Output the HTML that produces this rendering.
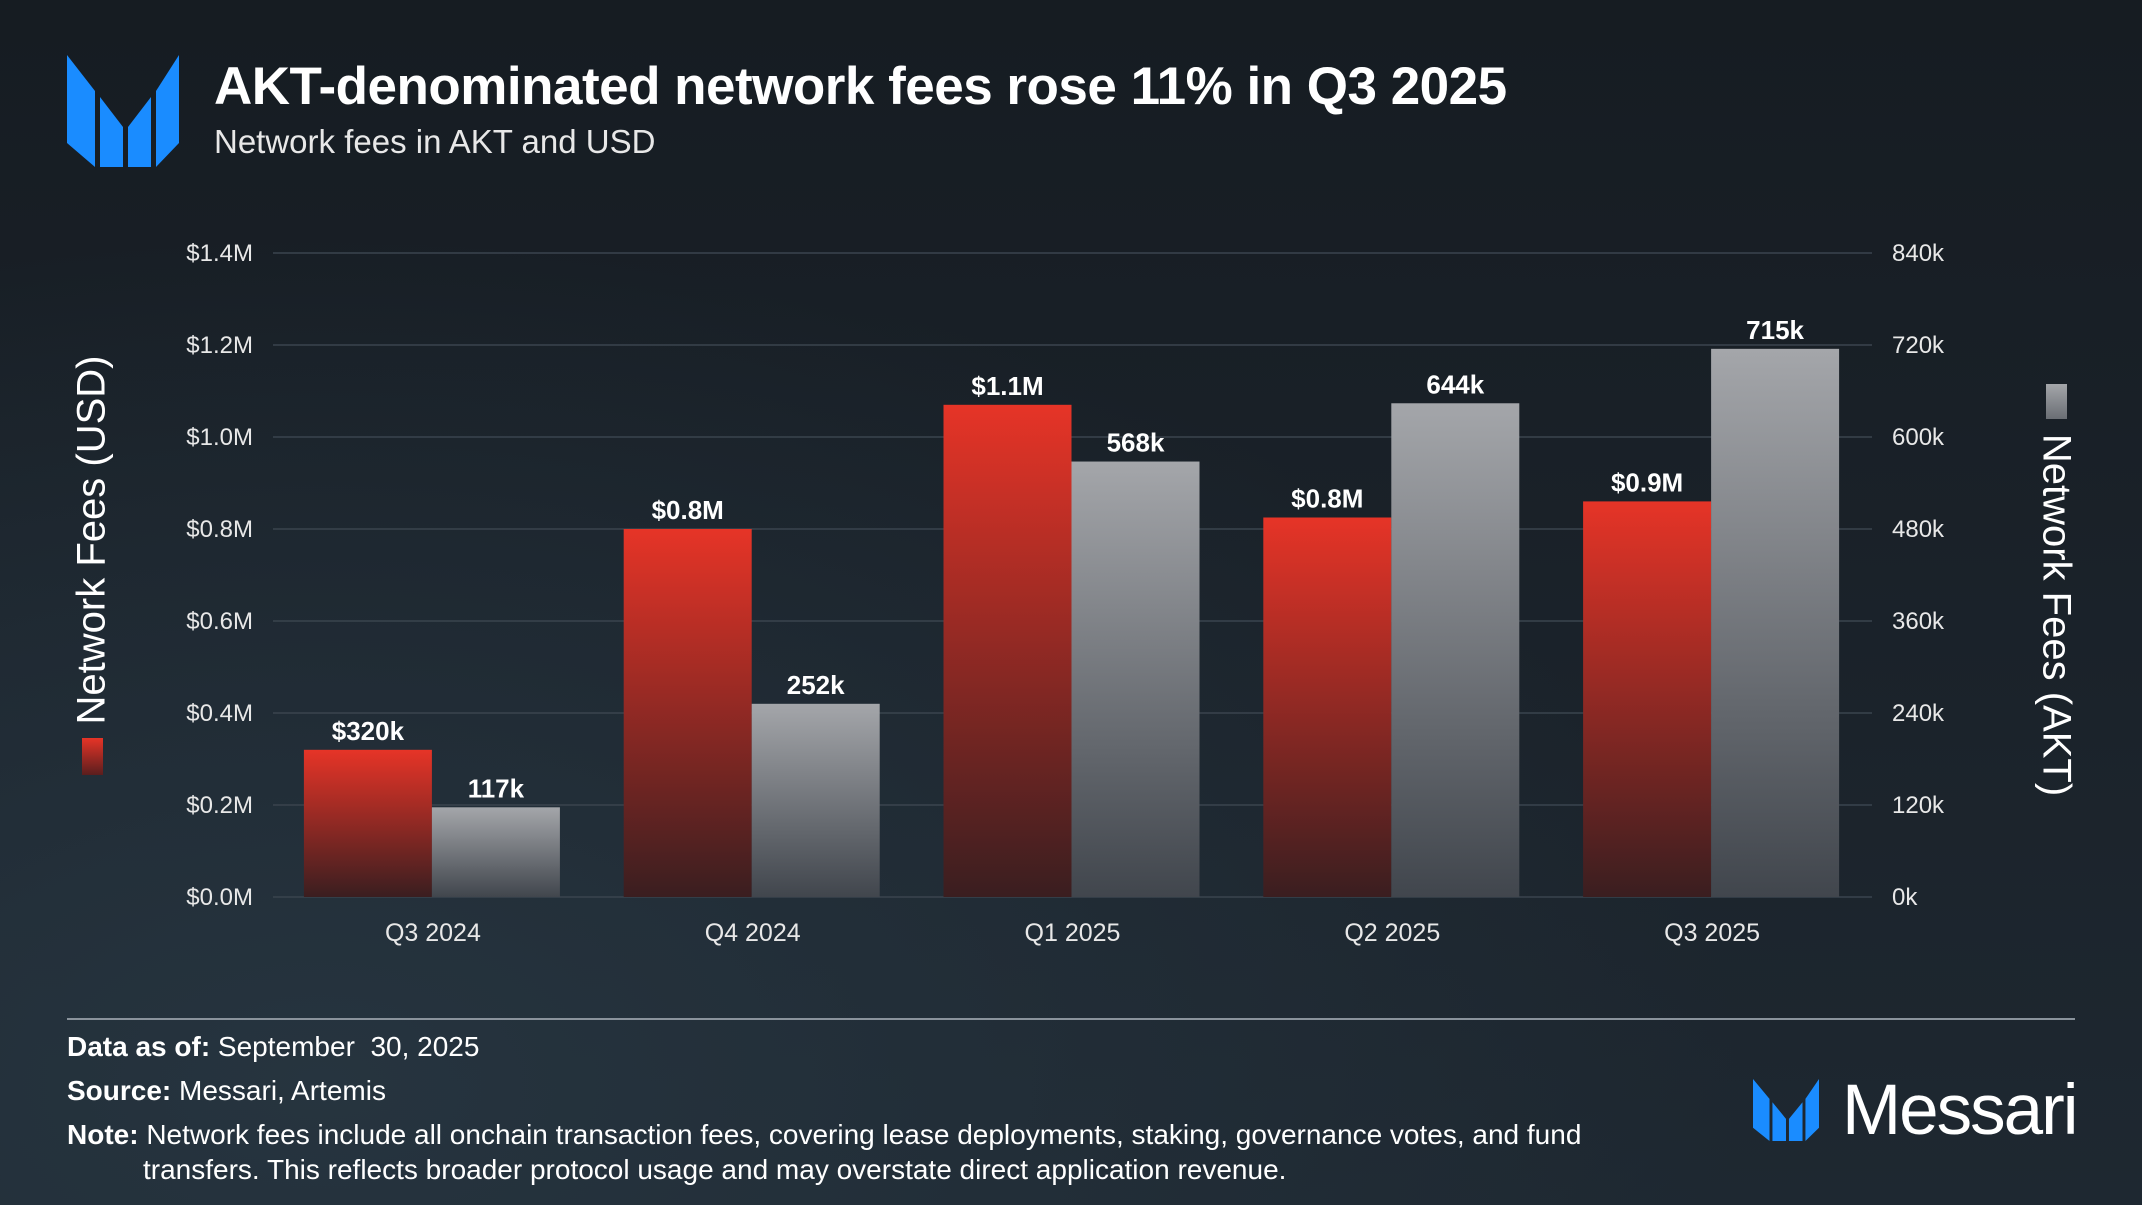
<!DOCTYPE html>
<html><head><meta charset="utf-8"><style>
html,body{margin:0;padding:0}
body{width:2142px;height:1205px;overflow:hidden;font-family:"Liberation Sans",sans-serif;color:#fff;
background:radial-gradient(ellipse at 15% 90%,#26343f 0%,rgba(30,40,50,0) 55%),linear-gradient(180deg,#161c22 0%,#1b232b 60%,#1e2831 100%);position:relative}
.abs{position:absolute}
</style></head><body>
<svg class="abs" style="left:67px;top:55px" width="112" height="112" viewBox="0 0 112 112">
<polygon points="0,0 28,36 28,112 0,88" fill="#1a8cff"/><polygon points="33,42 56,72 56,112 33,112" fill="#1a8cff"/>
<polygon points="61,72 84,42 84,112 61,112" fill="#1a8cff"/><polygon points="89,36 112,0 112,88 89,112" fill="#1a8cff"/></svg>
<div class="abs" style="left:214px;top:56px;font-size:53px;font-weight:bold;letter-spacing:-0.5px">AKT-denominated network fees rose 11% in Q3 2025</div>
<div class="abs" style="left:214px;top:123px;font-size:33px;color:#e8e8e8">Network fees in AKT and USD</div>
<svg class="abs" style="left:0;top:0" width="2142" height="1000" id="chart">
<defs>
<linearGradient id="gr" x1="0" y1="0" x2="0" y2="1"><stop offset="0" stop-color="#e63427"/><stop offset="1" stop-color="#3a1e20"/></linearGradient>
<linearGradient id="gg" x1="0" y1="0" x2="0" y2="1"><stop offset="0" stop-color="#a4a6aa"/><stop offset="1" stop-color="#41464d"/></linearGradient>
</defs>
<g id="grid"></g><g id="bars"></g><g id="labels"></g>
</svg>
<div class="abs" style="left:92px;top:540px;transform:translate(-50%,-50%) rotate(-90deg);font-size:40px;white-space:nowrap">Network Fees (USD)</div>
<div class="abs" style="left:82px;top:738px;width:21px;height:37px;background:linear-gradient(#e63427,#5a1e1e)"></div>
<div class="abs" style="left:2056px;top:615px;transform:translate(-50%,-50%) rotate(90deg);font-size:40px;white-space:nowrap">Network Fees (AKT)</div>
<div class="abs" style="left:2046px;top:384px;width:21px;height:35px;background:linear-gradient(#a4a6aa,#6a6e74)"></div>
<div class="abs" style="left:67px;top:1018px;width:2008px;height:2px;background:#8a939c"></div>
<div class="abs" style="left:67px;top:1031px;font-size:28px"><b>Data as of:</b> September&nbsp; 30, 2025</div>
<div class="abs" style="left:67px;top:1075px;font-size:28px"><b>Source:</b> Messari, Artemis</div>
<div class="abs" style="left:67px;top:1117px;font-size:28px;line-height:35px;width:1620px"><b>Note:</b> Network fees include all onchain transaction fees, covering lease deployments, staking, governance votes, and fund<br><span style="padding-left:76px">transfers. This reflects broader protocol usage and may overstate direct application revenue.</span></div>
<svg class="abs" style="left:1753px;top:1079px" width="66" height="62" viewBox="0 0 112 112" preserveAspectRatio="none">
<polygon points="0,0 28,36 28,112 0,88" fill="#1a8cff"/><polygon points="33,42 56,72 56,112 33,112" fill="#1a8cff"/>
<polygon points="61,72 84,42 84,112 61,112" fill="#1a8cff"/><polygon points="89,36 112,0 112,88 89,112" fill="#1a8cff"/></svg>
<div class="abs" style="left:1842px;top:1070px;font-size:71px;letter-spacing:-2px">Messari</div>
<script>
const categories=["Q3 2024","Q4 2024","Q1 2025","Q2 2025","Q3 2025"];
const usdValues=[0.32,0.80,1.07,0.825,0.86];
const usdLabels=["$320k","$0.8M","$1.1M","$0.8M","$0.9M"];
const aktValues=[117,252,568,644,715];
const aktLabels=["117k","252k","568k","644k","715k"];
const usdTicks=[0,0.2,0.4,0.6,0.8,1.0,1.2,1.4];
const aktTicks=[0,120,240,360,480,600,720,840];
const NS="http://www.w3.org/2000/svg";
const X0=273,X1=1872,Y0=897,Y1=253;
const yUsd=v=>Y0-(v/1.4)*(Y0-Y1);
const yAkt=v=>Y0-(v/840)*(Y0-Y1);
const step=(X1-X0)/categories.length;
const xC=i=>X0+step*(i+0.5);
const BW=128;
function mk(t,a,p){const e=document.createElementNS(NS,t);for(const k in a)e.setAttribute(k,a[k]);p.appendChild(e);return e;}
const grid=document.getElementById('grid'),bars=document.getElementById('bars'),lab=document.getElementById('labels');
usdTicks.forEach((v,i)=>{const y=yUsd(v);
const l=mk('line',{x1:X0,x2:X1,y1:y,y2:y,stroke:'#3a444e','stroke-width':1.5},grid);


const t=mk('text',{x:253,y:y+8,'text-anchor':'end','font-size':24,fill:'#e8e8e8'},lab);t.textContent='$'+v.toFixed(1)+'M';


const r=mk('text',{x:1892,y:yAkt(aktTicks[i])+8,'font-size':24,fill:'#e8e8e8'},lab);r.textContent=aktTicks[i]+'k';

});
categories.forEach((c,i)=>{const cx=xC(i);
const ry=yUsd(usdValues[i]);
const rb=mk('rect',{x:cx-BW-1,y:ry,width:BW,height:Y0-ry,fill:'url(#gr)'},bars);


const gy=yAkt(aktValues[i]);
const gb=mk('rect',{x:cx-1,y:gy,width:BW,height:Y0-gy,fill:'url(#gg)'},bars);


const t1=mk('text',{x:cx-BW/2-1,y:ry-10,'text-anchor':'middle','font-size':26,'font-weight':'bold',fill:'#fff'},lab);t1.textContent=usdLabels[i];


const t2=mk('text',{x:cx+BW/2-1,y:gy-10,'text-anchor':'middle','font-size':26,'font-weight':'bold',fill:'#fff'},lab);t2.textContent=aktLabels[i];


const xl=mk('text',{x:cx,y:941,'text-anchor':'middle','font-size':25,fill:'#e8e8e8'},lab);xl.textContent=c;

});
</script>
</body></html>
